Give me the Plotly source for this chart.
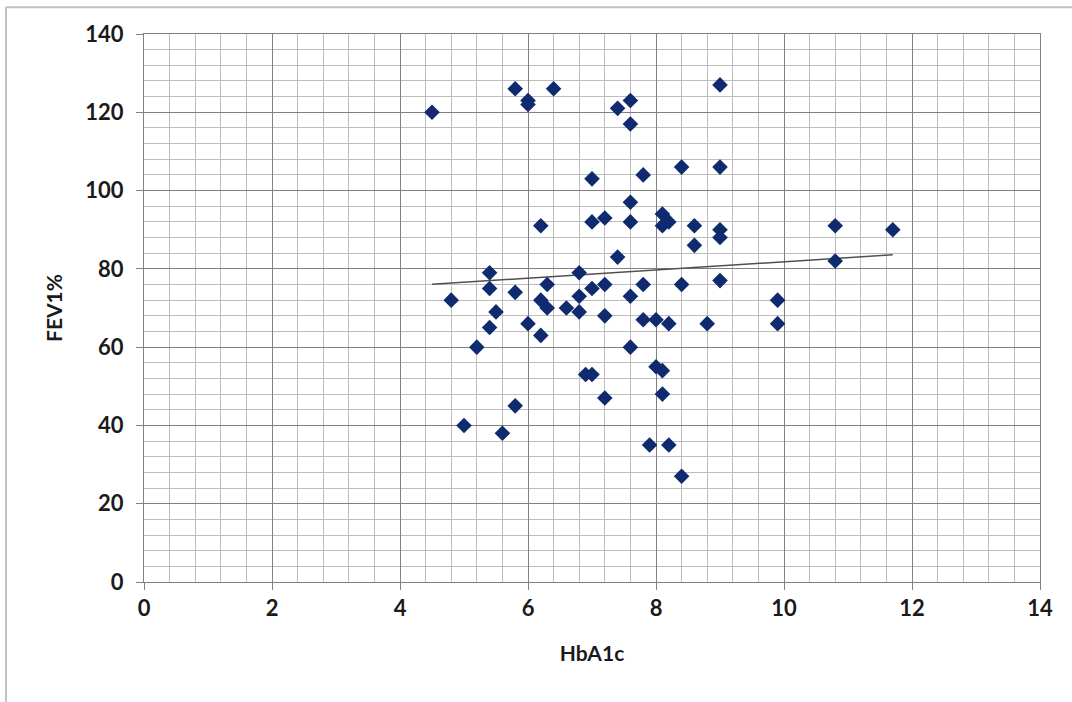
import numpy as np
import plotly.graph_objects as go

hba1c = [4.5, 4.8, 5.0, 5.2, 5.4, 5.4, 5.4, 5.5, 5.6, 5.8, 5.8, 5.8,
         6.0, 6.0, 6.0, 6.2, 6.2, 6.2, 6.3, 6.3, 6.4, 6.6, 6.8, 6.8, 6.8,
         6.9, 7.0, 7.0, 7.0, 7.0, 7.2, 7.2, 7.2, 7.2, 7.4, 7.4,
         7.6, 7.6, 7.6, 7.6, 7.6, 7.6, 7.8, 7.8, 7.8, 7.9, 8.0, 8.0,
         8.1, 8.1, 8.1, 8.1, 8.2, 8.2, 8.2, 8.4, 8.4, 8.4, 8.6, 8.6, 8.8,
         9.0, 9.0, 9.0, 9.0, 9.0, 9.9, 9.9, 10.8, 10.8, 11.7]
fev1 = [120, 72, 40, 60, 79, 75, 65, 69, 38, 126, 74, 45,
        123, 122, 66, 91, 72, 63, 76, 70, 126, 70, 79, 73, 69,
        53, 53, 103, 92, 75, 93, 76, 68, 47, 121, 83,
        123, 117, 97, 92, 73, 60, 104, 76, 67, 35, 67, 55,
        94, 91, 54, 48, 92, 66, 35, 106, 76, 27, 91, 86, 66,
        127, 106, 90, 88, 77, 72, 66, 91, 82, 90]

x_ticks = [0, 2, 4, 6, 8, 10, 12, 14]
y_ticks = [0, 20, 40, 60, 80, 100, 120, 140]

slope, intercept = np.polyfit(hba1c, fev1, 1)
trend_x = [min(hba1c), max(hba1c)]
trend_y = [slope * v + intercept for v in trend_x]

font_family = "Lato"

fig = go.Figure()
fig.add_trace(go.Scatter(x=trend_x, y=trend_y, mode="lines",
                         line=dict(color="#505050", width=1.5),
                         showlegend=False, hoverinfo="skip"))
fig.add_trace(go.Scatter(x=hba1c, y=fev1, mode="markers",
                         marker=dict(symbol="diamond", size=12, color="#0f2a6e",
                                     line=dict(width=0)),
                         showlegend=False))

fig.update_layout(
    width=1072, height=702,
    margin=dict(l=144, r=32, t=34, b=120),
    paper_bgcolor="white", plot_bgcolor="white",
    font=dict(family=font_family, color="#1a1a1a"),
    xaxis=dict(range=[0, 14], tickvals=x_ticks, ticktext=[str(v) for v in x_ticks],
               automargin=False,
               showgrid=True, gridcolor="#808080", gridwidth=1,
               minor=dict(dtick=0.4, showgrid=True, gridcolor="#bdbdbd", gridwidth=1),
               showline=True, linecolor="#808080", linewidth=1, mirror=True,
               ticks="outside", ticklen=7, tickcolor="#808080",
               tickfont=dict(family=font_family, size=22, color="#1a1a1a", weight="bold"),
               title=dict(text="<b>HbA1c</b>", standoff=25,
                          font=dict(family=font_family, size=21, color="#1a1a1a")),
               zeroline=False),
    yaxis=dict(range=[0, 140], tickvals=y_ticks, ticktext=[str(v) for v in y_ticks],
               automargin=False,
               showgrid=True, gridcolor="#808080", gridwidth=1,
               minor=dict(dtick=4, showgrid=True, gridcolor="#bdbdbd", gridwidth=1),
               showline=True, linecolor="#808080", linewidth=1, mirror=True,
               ticks="outside", ticklen=7, tickcolor="#808080",
               tickfont=dict(family=font_family, size=22, color="#1a1a1a", weight="bold"),
               ticklabelstandoff=8,
               title=dict(text="<b>FEV1%</b>", standoff=16,
                          font=dict(family=font_family, size=21, color="#1a1a1a")),
               zeroline=False),
    shapes=[
        dict(type="line", xref="paper", yref="paper", x0=-0.154, x1=1.05, y0=1.049, y1=1.049,
             line=dict(color="#c0c0c0", width=2)),
        dict(type="line", xref="paper", yref="paper", x0=-0.154, x1=-0.154, y0=1.049, y1=-0.22,
             line=dict(color="#c0c0c0", width=2)),
    ],
)

fig.write_html("out.html",
               config={"displayModeBar": False},
               post_script="document.body.style.margin='0';document.body.style.overflow='hidden';")
